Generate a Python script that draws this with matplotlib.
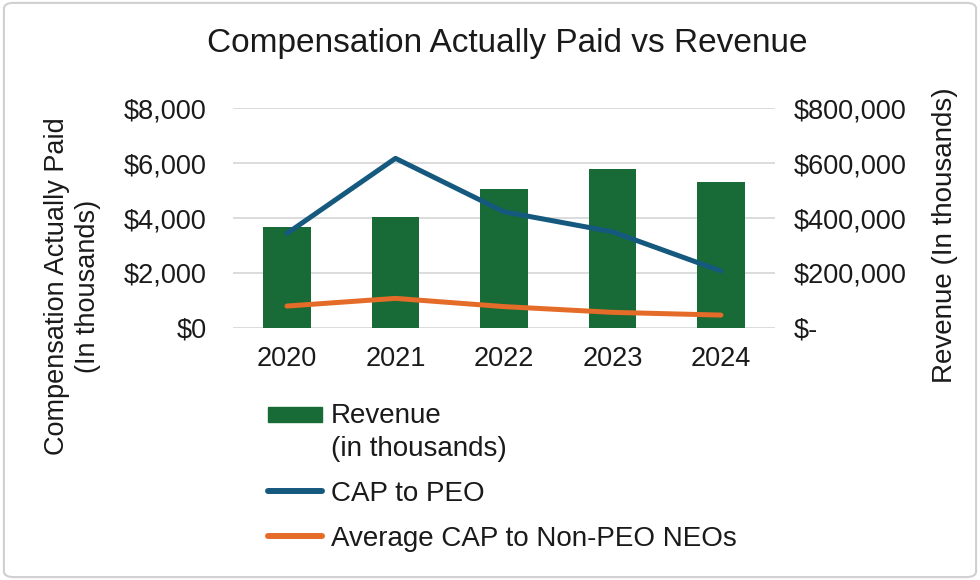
import matplotlib
matplotlib.use('Agg')
import matplotlib.pyplot as plt
from matplotlib.patches import FancyBboxPatch, Rectangle
from matplotlib.legend_handler import HandlerPatch
from matplotlib.ticker import FuncFormatter

plt.rcParams['font.family'] = ['Liberation Sans', 'DejaVu Sans']

years = ['2020', '2021', '2022', '2023', '2024']
revenue = [368000, 404000, 505000, 579000, 530000]
cap_peo = [3440, 6180, 4230, 3500, 2070]
cap_non_peo = [790, 1070, 770, 560, 460]

green = '#186b36'
blue = '#16597f'
orange = '#e46c28'
grid_col = '#d9d9d9'
txt = '#1a1a1a'

fig = plt.figure(figsize=(9.8, 5.8), dpi=100)
# light border round the whole chart
fig.patches.append(FancyBboxPatch((0.004, 0.005), 0.992, 0.99, boxstyle='round,pad=0,rounding_size=0.01',
                                  transform=fig.transFigure, fill=False, edgecolor='#d0d0d0', linewidth=1.5))

ax = fig.add_axes([0.2375, 0.435, 0.5535, 0.378])
ax2 = ax.twinx()
ax.set_zorder(ax2.get_zorder() + 1)
ax.patch.set_visible(False)

x = range(len(years))
ax2.bar(x, revenue, width=0.44, color=green, zorder=2)
l1, = ax.plot(x, cap_peo, color=blue, linewidth=3.6, solid_capstyle='round', label='CAP to PEO')
l2, = ax.plot(x, cap_non_peo, color=orange, linewidth=3.6, solid_capstyle='round',
              label='Average CAP to Non-PEO NEOs')

ax.set_xlim(-0.5, 4.5)
ax.set_ylim(0, 8000)
ax.set_yticks([0, 2000, 4000, 6000, 8000])
ax2.set_ylim(0, 800000)
ax2.set_yticks([0, 200000, 400000, 600000, 800000])
ax.yaxis.set_major_formatter(FuncFormatter(lambda v, p: '${:,.0f}'.format(v)))
ax2.yaxis.set_major_formatter(FuncFormatter(lambda v, p: '$-' if v == 0 else '${:,.0f}'.format(v)))
ax.set_xticks(list(x))
ax.set_xticklabels(years)

ax2.grid(axis='y', color=grid_col, linewidth=1.3, zorder=0)
ax2.set_axisbelow(True)
for a in (ax, ax2):
    for s in a.spines.values():
        s.set_visible(False)
    a.tick_params(length=0, labelsize=19.5, colors=txt)
ax.tick_params(axis='x', pad=13)
ax.tick_params(axis='y', pad=19)
ax2.tick_params(axis='y', pad=13)

fig.text(0.518, 0.925, 'Compensation Actually Paid vs Revenue', ha='center', va='center',
         fontsize=24, color=txt)
fig.text(0.074, 0.507, 'Compensation Actually Paid\n(In thousands)', rotation=90, ha='center',
         va='center', fontsize=19.5, color=txt, linespacing=1.25)
fig.text(0.9645, 0.595, 'Revenue (In thousands)', rotation=90, ha='center', va='center',
         fontsize=20, color=txt)


# legend patch sits next to the first line of the two-line label
def top_patch(legend, orig_handle, xdescent, ydescent, width, height, fontsize):
    return Rectangle((-xdescent, -ydescent + 15), width, 10.5)


rev_handle = Rectangle((0, 0), 1, 1, color=green, label='Revenue\n(in thousands)')
leg = fig.legend(handles=[rev_handle, l1, l2], loc='upper left', bbox_to_anchor=(0.2735, 0.305),
                 frameon=False, fontsize=20, handlelength=1.95, handletextpad=0.3,
                 labelspacing=0.68, borderpad=0, borderaxespad=0, labelcolor=txt,
                 handler_map={rev_handle: HandlerPatch(patch_func=top_patch)})
leg.get_texts()[0].set_linespacing(1.35)
for h in leg.legend_handles[1:]:
    h.set_linewidth(4.3)

fig.savefig('out.png', dpi=100)
